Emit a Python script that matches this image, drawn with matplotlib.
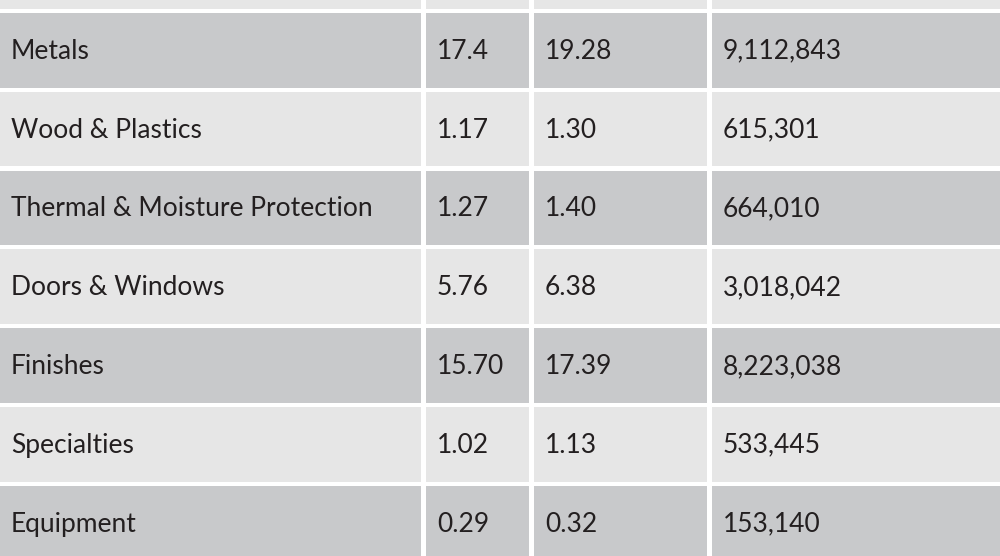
import matplotlib.pyplot as plt
from matplotlib.patches import Rectangle

categories = ['Metals', 'Wood & Plastics', 'Thermal & Moisture Protection',
              'Doors & Windows', 'Finishes', 'Specialties', 'Equipment']
col2 = ['17.4', '1.17', '1.27', '5.76', '15.70', '1.02', '0.29']
col3 = ['19.28', '1.30', '1.40', '6.38', '17.39', '1.13', '0.32']
col4 = ['9,112,843', '615,301', '664,010', '3,018,042', '8,223,038', '533,445', '153,140']

# layout in pixel units
col_edges = [(0, 421), (426, 529), (534, 707), (712, 1000)]
row_top0 = 13
row_h = 74.5
row_pitch = 78.8
dark = '#c8c9cb'
light = '#e6e6e6'

fig = plt.figure(figsize=(10, 5.56), dpi=100)
ax = fig.add_axes([0, 0, 1, 1])
ax.set_xlim(0, 1000)
ax.set_ylim(556, 0)
ax.axis('off')

# partial header row at the top
for x0, x1 in col_edges:
    ax.add_patch(Rectangle((x0, -70), x1 - x0, 79, color=light, lw=0))

rows = list(zip(categories, col2, col3, col4))
for i, vals in enumerate(rows):
    y0 = row_top0 + i * row_pitch
    fc = dark if i % 2 == 0 else light
    for (x0, x1), v in zip(col_edges, vals):
        ax.add_patch(Rectangle((x0, y0), x1 - x0, row_h, color=fc, lw=0))
        ax.text(x0 + 11, y0 + row_h / 2 + 1, v, ha='left', va='center',
                fontsize=19, color='#231f20', family=['Lato', 'DejaVu Sans'])

fig.savefig('out.png', dpi=100)
